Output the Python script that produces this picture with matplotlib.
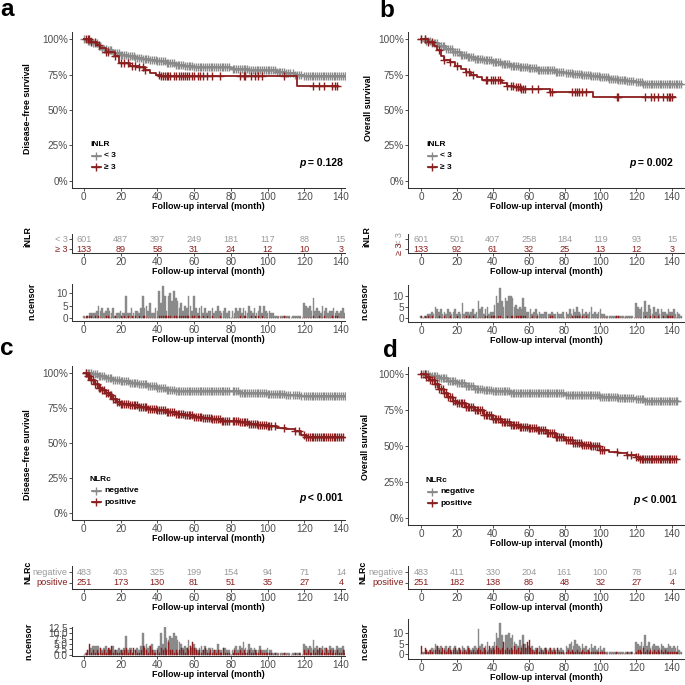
import matplotlib
matplotlib.use("Agg")
import matplotlib.pyplot as plt
import numpy as np

plt.rcParams["font.family"] = ["Liberation Sans", "DejaVu Sans"]

GREY, RED = "#8A8A8A", "#8B1E1E"
GREY_TXT = "#9A9A9A"
AX_COL, TICK_TXT = "#333333", "#4D4D4D"
W = H = 685

months = np.arange(146)
xticks = [0, 20, 40, 60, 80, 100, 120, 140]
xlabel = "Follow-up interval (month)"

# ═══════ a: disease-free survival by iNLR ═══════
a_lo_t = [0, 2, 5, 8, 10, 13, 16, 20, 24, 28, 32, 36, 40, 45, 50, 55, 60, 70, 80, 90, 100, 105, 110, 115, 120]
a_lo_s = [1.0, 0.99, 0.97, 0.95, 0.93, 0.92, 0.90, 0.89, 0.88, 0.87, 0.86, 0.85, 0.845, 0.83, 0.82, 0.81,
          0.805, 0.80, 0.79, 0.785, 0.78, 0.77, 0.76, 0.75, 0.74]
a_hi_t = [0, 4, 7, 9, 12, 17, 19, 25, 30, 33, 36, 39, 42, 116]
a_hi_s = [1.0, 0.98, 0.96, 0.94, 0.91, 0.88, 0.83, 0.81, 0.80, 0.78, 0.76, 0.75, 0.74, 0.67]
a_end = [145, 138.5]
a_cens_lo = [1, 0, 1, 2, 2, 2, 2, 3, 5, 3,   4, 2, 3, 4, 3, 2, 4, 1, 2, 2,
             3, 2, 2, 9, 2, 2, 4, 2, 3, 3,   2, 4, 9, 4, 5, 3, 6, 2, 2, 4,
             3, 11, 6, 13, 9, 3, 9, 10, 7, 11, 8, 7, 4, 6, 3, 5, 4, 9, 5, 3,
             9, 4, 2, 4, 5, 2, 4, 2, 3, 3,   4, 2, 3, 5, 3, 2, 3, 4, 2, 3,
             0, 3, 2, 4, 3, 4, 2, 4, 3, 2,   5, 3, 2, 4, 2, 3, 5, 2, 5, 3,
             2, 3, 2, 2, 1, 1, 1, 1, 1, 1,   1, 1, 1, 0, 1, 1, 1, 1, 1, 0,
             6, 5, 4, 5, 3, 8, 3, 4, 3, 2,   5, 3, 4, 2, 3, 3, 4, 2, 3, 2,
             3, 4, 2, 3, 2, 1]
a_cens_hi = [0, 1, 1, 1, 1, 0, 1, 0, 1, 0,   0, 0, 1, 1, 0, 0, 0, 1, 0, 0,
             1, 0, 1, 0, 1, 0, 1, 0, 1, 0,   1, 0, 1, 1, 0, 0, 0, 0, 0, 0,
             0, 1, 1, 1, 1, 1, 1, 1, 0, 1,   1, 0, 1, 1, 1, 1, 1, 1, 0, 1,
             1, 0, 1, 1, 0, 1, 0, 1, 0, 0,   1, 0, 0, 0, 1, 0, 0, 0, 0, 0,
             0, 0, 0, 0, 0, 1, 0, 1, 1, 0,   0, 1, 0, 1, 0, 1, 0, 1, 0, 0,
             0, 0, 0, 0, 0, 0, 0, 0, 0, 1,   0, 0, 0, 0, 0, 0, 0, 0, 0, 0,
             0, 0, 0, 0, 0, 1, 0, 0, 1, 0,   0, 1, 0, 0, 0, 1, 0, 1, 1, 0,
             0, 0, 0, 0, 0, 0]
a_risk_lo = [601, 487, 397, 249, 181, 117, 88, 15]
a_risk_hi = [133, 89, 58, 31, 24, 12, 10, 3]

# ═══════ b: overall survival by iNLR ═══════
b_lo_t = [0, 3, 6, 10, 14, 18, 22, 26, 30, 35, 40, 45, 50, 55, 60, 65, 70, 75, 80, 85, 90, 95, 100,
          105, 110, 115, 120, 124]
b_lo_s = [1.0, 0.99, 0.97, 0.95, 0.93, 0.91, 0.89, 0.875, 0.86, 0.85, 0.835, 0.825, 0.81, 0.80, 0.795,
          0.785, 0.78, 0.77, 0.76, 0.755, 0.75, 0.74, 0.73, 0.72, 0.71, 0.705, 0.70, 0.685]
b_hi_t = [0, 4, 7, 9, 11, 13, 16, 19, 22, 25, 28, 31, 34, 45, 48, 52, 56, 72, 96]
b_hi_s = [1.0, 0.98, 0.95, 0.92, 0.88, 0.85, 0.84, 0.81, 0.79, 0.77, 0.75, 0.73, 0.71, 0.69, 0.67,
          0.66, 0.65, 0.63, 0.59]
b_end = [145.4, 141.5]
b_cens_lo = [1, 0, 1, 1, 2, 2, 3, 2, 5, 4,   3, 4, 2, 3, 2, 4, 3, 2, 3, 4,
             2, 3, 2, 7, 2, 3, 3, 2, 3, 4,   2, 3, 8, 4, 5, 2, 4, 5, 2, 3,
             3, 6, 10, 7, 14, 8, 5, 9, 8, 10, 10, 9, 5, 6, 4, 5, 4, 9, 5, 3,
             3, 4, 2, 3, 4, 2, 3, 2, 2, 3,   3, 2, 2, 3, 2, 2, 3, 2, 2, 3,
             0, 3, 2, 4, 2, 4, 3, 5, 3, 2,   4, 2, 3, 2, 3, 5, 2, 3, 2, 3,
             4, 2, 2, 1, 1, 1, 1, 1, 1, 1,   1, 1, 1, 1, 1, 1, 1, 1, 1, 0,
             7, 5, 4, 5, 3, 8, 3, 6, 4, 2,   5, 3, 4, 2, 4, 3, 3, 2, 4, 3,
             3, 4, 2, 3, 2, 1]
b_cens_hi = [1, 0, 1, 0, 1, 0, 1, 0, 0, 0,   1, 0, 0, 1, 0, 0, 1, 0, 0, 0,
             1, 0, 0, 0, 0, 1, 0, 1, 0, 1,   0, 0, 0, 0, 0, 0, 1, 1, 0, 1,
             1, 1, 0, 1, 1, 0, 0, 0, 1, 0,   1, 1, 0, 1, 1, 1, 1, 1, 1, 0,
             0, 0, 1, 0, 0, 1, 0, 0, 0, 0,   0, 0, 1, 1, 0, 0, 0, 0, 0, 0,
             0, 0, 0, 0, 1, 0, 1, 1, 1, 0,   1, 0, 1, 0, 0, 0, 0, 0, 0, 0,
             0, 0, 0, 0, 0, 0, 0, 0, 0, 1,   1, 0, 0, 0, 0, 0, 0, 0, 0, 0,
             0, 0, 0, 0, 0, 1, 0, 0, 1, 0,   1, 0, 1, 0, 0, 1, 0, 1, 1, 1,
             1, 0, 0, 0, 0, 0]
b_risk_lo = [601, 501, 407, 258, 184, 119, 93, 15]
b_risk_hi = [133, 92, 61, 32, 25, 13, 12, 3]

# ═══════ c: disease-free survival by NLRc ═══════
c_lo_t = [0, 5, 8, 12, 16, 20, 25, 30, 35, 40, 45, 50, 85, 90, 100, 110, 118]
c_lo_s = [1.0, 0.99, 0.98, 0.965, 0.95, 0.94, 0.93, 0.92, 0.905, 0.895, 0.88, 0.87, 0.86, 0.855, 0.85,
          0.845, 0.835]
c_hi_t = [0, 2, 4, 6, 8, 10, 12, 14, 16, 18, 20, 25, 30, 35, 40, 45, 50, 55, 60, 65, 70, 75, 80, 85,
          90, 95, 100, 105, 110, 115, 118, 121]
c_hi_s = [1.0, 0.98, 0.95, 0.92, 0.895, 0.88, 0.86, 0.84, 0.815, 0.795, 0.78, 0.77, 0.757, 0.745,
          0.734, 0.72, 0.71, 0.70, 0.687, 0.676, 0.67, 0.66, 0.657, 0.65, 0.634, 0.63, 0.624, 0.605,
          0.60, 0.583, 0.56, 0.54]
c_end = [145, 141]
c_cens_lo = [0, 1, 2, 2, 3, 4, 4, 4, 4, 3,   2, 3, 4, 2, 3, 2, 4, 2, 2, 3,
             2, 2, 3, 9, 2, 3, 3, 2, 2, 3,   2, 4, 10, 4, 5, 3, 4, 5, 2, 2,
             3, 4, 10, 5, 13, 8, 7, 9, 8, 10, 9, 7, 6, 5, 3, 4, 3, 7, 4, 3,
             5, 3, 2, 3, 4, 2, 4, 2, 3, 3,   3, 2, 2, 5, 2, 2, 3, 3, 2, 2,
             0, 2, 3, 4, 2, 4, 3, 6, 3, 2,   5, 3, 2, 3, 2, 2, 4, 2, 2, 2,
             3, 2, 2, 1, 1, 1, 1, 1, 1, 1,   1, 1, 1, 0, 1, 1, 1, 1, 1, 0,
             5, 4, 3, 4, 3, 7, 3, 4, 2, 3,   4, 3, 3, 2, 4, 3, 3, 2, 4, 3,
             3, 4, 2, 3, 2, 1]
c_cens_hi = [0, 1, 2, 5, 1, 2, 1, 2, 1, 3,   1, 2, 1, 3, 2, 4, 1, 2, 1, 1,
             2, 1, 2, 3, 1, 2, 1, 3, 2, 1,   1, 2, 4, 3, 2, 1, 4, 2, 1, 1,
             2, 1, 3, 2, 3, 2, 6, 2, 2, 1,   2, 1, 2, 3, 2, 1, 3, 2, 4, 6,
             3, 2, 1, 2, 1, 2, 3, 1, 1, 2,   1, 2, 1, 2, 1, 1, 3, 1, 1, 1,
             0, 1, 2, 1, 1, 2, 1, 2, 1, 1,   2, 1, 1, 2, 1, 1, 2, 1, 1, 1,
             1, 1, 1, 0, 1, 0, 0, 0, 0, 1,   0, 0, 0, 0, 0, 1, 0, 1, 0, 0,
             2, 1, 2, 1, 1, 2, 1, 2, 3, 1,   2, 1, 3, 1, 2, 1, 2, 1, 2, 1,
             1, 2, 1, 1, 0, 0]
c_risk_lo = [483, 403, 325, 199, 154, 94, 71, 14]
c_risk_hi = [251, 173, 130, 81, 51, 35, 27, 4]

# ═══════ d: overall survival by NLRc ═══════
d_lo_t = [0, 5, 10, 15, 20, 25, 30, 35, 40, 50, 60, 80, 100, 110, 120, 125]
d_lo_s = [1.0, 0.99, 0.97, 0.955, 0.937, 0.915, 0.90, 0.89, 0.885, 0.87, 0.867, 0.855, 0.84, 0.832,
          0.825, 0.816]
d_hi_t = [0, 3, 5, 8, 10, 13, 15, 18, 20, 25, 30, 35, 40, 45, 50, 55, 60, 65, 70, 75, 80, 85, 90, 95,
          100, 105, 110, 115, 120, 122]
d_hi_s = [1.0, 0.98, 0.96, 0.93, 0.90, 0.87, 0.843, 0.81, 0.796, 0.773, 0.75, 0.715, 0.69, 0.67, 0.645,
          0.63, 0.623, 0.61, 0.59, 0.56, 0.54, 0.52, 0.507, 0.50, 0.472, 0.46, 0.45, 0.44, 0.426, 0.41]
d_end = [143.5, 142.5]
d_cens_lo = [0, 1, 1, 2, 1, 2, 3, 2, 5, 4,   3, 4, 2, 3, 4, 2, 4, 2, 3, 4,
             2, 3, 2, 4, 3, 2, 4, 3, 2, 3,   4, 3, 12, 4, 5, 3, 4, 6, 2, 3,
             4, 6, 10, 8, 15, 9, 6, 9, 9, 10, 8, 9, 6, 5, 4, 7, 4, 9, 5, 3,
             4, 3, 4, 2, 3, 2, 4, 3, 2, 3,   3, 2, 3, 2, 3, 2, 3, 2, 3, 2,
             0, 4, 3, 5, 6, 4, 7, 5, 4, 3,   5, 3, 4, 2, 3, 5, 3, 4, 2, 3,
             4, 2, 3, 1, 1, 1, 1, 1, 1, 1,   1, 1, 1, 1, 1, 1, 1, 1, 1, 0,
             6, 5, 4, 6, 4, 9, 4, 6, 3, 4,   5, 4, 4, 3, 5, 4, 3, 3, 5, 4,
             3, 4, 3, 4, 2, 1]
d_cens_hi = [4, 0, 3, 2, 1, 2, 1, 3, 2, 4,   2, 1, 3, 2, 1, 3, 2, 1, 2, 3,
             1, 3, 2, 1, 2, 1, 3, 2, 1, 2,   1, 2, 3, 2, 1, 3, 2, 1, 4, 2,
             3, 2, 4, 3, 2, 3, 6, 2, 3, 2,   3, 2, 4, 2, 3, 1, 3, 5, 3, 6,
             7, 3, 2, 1, 2, 3, 1, 2, 1, 3,   2, 1, 3, 1, 2, 1, 3, 1, 1, 1,
             0, 1, 2, 1, 2, 1, 1, 2, 1, 1,   2, 1, 1, 2, 1, 1, 1, 1, 1, 1,
             1, 1, 1, 0, 0, 0, 0, 0, 0, 1,   0, 0, 0, 0, 0, 1, 0, 1, 0, 0,
             1, 2, 2, 1, 3, 1, 2, 1, 2, 1,   2, 1, 2, 1, 2, 1, 2, 1, 1, 1,
             1, 1, 1, 1, 0, 0]
d_risk_lo = [483, 411, 330, 204, 161, 100, 78, 14]
d_risk_hi = [251, 182, 138, 86, 48, 32, 27, 4]


fig = plt.figure(figsize=(6.85, 6.85), dpi=100)


def box(l, t, r, b):
    return [l / W, 1 - b / H, (r - l) / W, (b - t) / H]


def base(ax, xlim, ylim):
    ax.set_xlim(xlim); ax.set_ylim(ylim)
    ax.patch.set_alpha(0)
    for sp in ["top", "right"]:
        ax.spines[sp].set_visible(False)
    for sp in ["left", "bottom"]:
        ax.spines[sp].set_color(AX_COL); ax.spines[sp].set_linewidth(0.75)
    ax.tick_params(length=2, width=0.6, color=AX_COL, labelsize=7.2, labelcolor=TICK_TXT, pad=1)
    ax.set_xticks(xticks)
    ax.set_xlabel(xlabel, fontsize=6.4, fontweight="bold", labelpad=0)


def km(L, R, top, bot, xlim, curves):
    ax = fig.add_axes(box(L, top, R, bot))
    base(ax, xlim, (-0.05, 1.05))
    ax.set_yticks([0, .25, .5, .75, 1])
    ax.set_yticklabels(["0%", "25%", "50%", "75%", "100%"])
    for t, s, end, cens, col in curves:
        t = np.array(t); s = np.array(s); cens = np.array(cens)
        ax.step(np.append(t, end), np.append(s, s[-1]), where="post", color=col, lw=1.3)
        ct = months[(cens > 0) & (months <= end)]
        cs = s[np.searchsorted(t, ct, side="right") - 1]
        ax.plot(ct, cs, ls="none", marker="+", ms=5.5, mew=1.0, color=col)
    return ax


def risk(L, R, top, bot, xlim, ylim, lo, hi, labels, rot):
    ax = fig.add_axes(box(L, top, R, bot))
    base(ax, xlim, ylim)
    for x, n1, n2 in zip(xticks, lo, hi):
        ax.text(x, 1, str(n1), color=GREY_TXT, fontsize=6.6, ha="center", va="center")
        ax.text(x, 0, str(n2), color=RED, fontsize=6.6, ha="center", va="center")
    ax.set_yticks([1, 0])
    ax.set_yticklabels(labels, fontsize=6.6, rotation=rot, va="center")
    for lab, col in zip(ax.get_yticklabels(), [GREY_TXT, RED]):
        lab.set_color(col)
    return ax


def censor(L, R, top, bot, xlim, ylim, lo, hi, yt, ytl):
    ax = fig.add_axes(box(L, top, R, bot))
    base(ax, xlim, ylim)
    ax.bar(months, lo, width=0.9, color=GREY, ec=GREY, lw=0.3)
    ax.bar(months + 0.2, hi, width=0.55, color=RED, ec=RED, lw=0.3)
    ax.set_yticks(yt)
    ax.set_yticklabels(ytl)
    return ax


colL, colR = (72, 345, (-6.5, 142.2)), (408, 685, (-7.3, 147.2))
panels = [
    dict(col=colL, main=(32, 188), rk=(234, 253), rk_ylim=(-0.4, 1.5), cn=(284, 321), cn_ylim=(-1.2, 13.6),
         cn_t=[0, 5, 10], cn_tl=["0", "5", "10"],
         curves=[(a_lo_t, a_lo_s, a_end[0], a_cens_lo, GREY), (a_hi_t, a_hi_s, a_end[1], a_cens_hi, RED)],
         cl=(a_cens_lo, a_cens_hi), rl=(a_risk_lo, a_risk_hi), labs=["< 3", "\u2265 3"], rot=0),
    dict(col=colR, main=(32, 188), rk=(234, 253), rk_ylim=(-0.4, 1.5), cn=(285, 322), cn_ylim=(-1.8, 15.2),
         cn_t=[0, 5, 10], cn_tl=["0", "5", "10"],
         curves=[(b_lo_t, b_lo_s, b_end[0], b_cens_lo, GREY), (b_hi_t, b_hi_s, b_end[1], b_cens_hi, RED)],
         cl=(b_cens_lo, b_cens_hi), rl=(b_risk_lo, b_risk_hi), labs=["< 3", "\u2265 3"], rot=90),
    dict(col=colL, main=(366, 520), rk=(566, 589), rk_ylim=(-0.55, 1.55), cn=(627, 656), cn_ylim=(-0.6, 13),
         cn_t=[0, 2.5, 5, 7.5, 10, 12.5], cn_tl=["0.0", "2.5", "5.0", "7.5", "10.0", "12.5"],
         curves=[(c_lo_t, c_lo_s, c_end[0], c_cens_lo, GREY), (c_hi_t, c_hi_s, c_end[1], c_cens_hi, RED)],
         cl=(c_cens_lo, c_cens_hi), rl=(c_risk_lo, c_risk_hi), labs=["negative", "positive"], rot=0),
    dict(col=colR, main=(367, 525), rk=(566, 589), rk_ylim=(-0.55, 1.55), cn=(619, 659), cn_ylim=(-2.4, 17),
         cn_t=[0, 5, 10], cn_tl=["0", "5", "10"],
         curves=[(d_lo_t, d_lo_s, d_end[0], d_cens_lo, GREY), (d_hi_t, d_hi_s, d_end[1], d_cens_hi, RED)],
         cl=(d_cens_lo, d_cens_hi), rl=(d_risk_lo, d_risk_hi), labs=["negative", "positive"], rot=0),
]

for p in panels:
    L, R, xl = p["col"]
    km(L, R, *p["main"], xl, p["curves"])
    risk(L, R, *p["rk"], xl, p["rk_ylim"], *p["rl"], p["labs"], p["rot"])
    censor(L, R, *p["cn"], xl, p["cn_ylim"], *p["cl"], p["cn_t"], p["cn_tl"])

# ═══════ overlay texts (pixel coordinates) ═══════
ov = fig.add_axes([0, 0, 1, 1], zorder=10)
ov.set_xlim(0, W); ov.set_ylim(H, 0); ov.axis("off")

for letter, x, y in [("a", 0, 16), ("b", 379, 17), ("c", 0, 355), ("d", 383, 357)]:
    ov.text(x, y, letter, fontsize=17.5, fontweight="bold", va="baseline", ha="left")

ylabs = [("Disease\u2013free survival", 28, 109), ("Overall survival", 369, 108),
         ("Disease\u2013free survival", 28, 455), ("Overall survival", 366, 447),
         ("iNLR", 28, 237), ("iNLR", 367, 237), ("NLRc", 28, 572), ("NLRc", 363, 572),
         ("n.censor", 32, 301), ("n.censor", 365, 301), ("n.censor", 29, 641), ("n.censor", 365, 641)]
for txt, x, y in ylabs:
    ov.text(x, y, txt, rotation=90, fontsize=6.4, fontweight="bold", ha="center", va="center")

legends = [("iNLR", 72, 144, ["< 3", "\u2265 3"]), ("iNLR", 408, 144, ["< 3", "\u2265 3"]),
           ("NLRc", 72, 479, ["negative", "positive"]), ("NLRc", 408, 480, ["negative", "positive"])]
for title, L, y0, labs in legends:
    ov.text(L + 18, y0, title, fontsize=6.0, fontweight="bold", va="center", ha="left")
    for k, (lab, col) in enumerate(zip(labs, [GREY, RED])):
        yy = y0 + 11.5 * (k + 1)
        ov.plot([L + 20, L + 29], [yy, yy], color=col, lw=1.3)
        ov.plot([L + 24.5], [yy], marker="+", ms=5.5, mew=1.0, color=col)
        ov.text(L + 32, yy, lab, fontsize=6.0, fontweight="bold", va="center", ha="left")

pvals = [(" = 0.128", 343, 163), (" = 0.002", 673, 163), (" < 0.001", 343, 498), (" < 0.001", 677, 500)]
for txt, x, y in pvals:
    t1 = ov.text(x, y, txt, fontsize=7.5, fontweight="bold", ha="right", va="center")
    ov.annotate("p", xy=(0, 0), xycoords=t1, fontsize=7.5, fontweight="bold", fontstyle="italic",
                ha="right", va="bottom")

fig.savefig("out.png", dpi=100)
